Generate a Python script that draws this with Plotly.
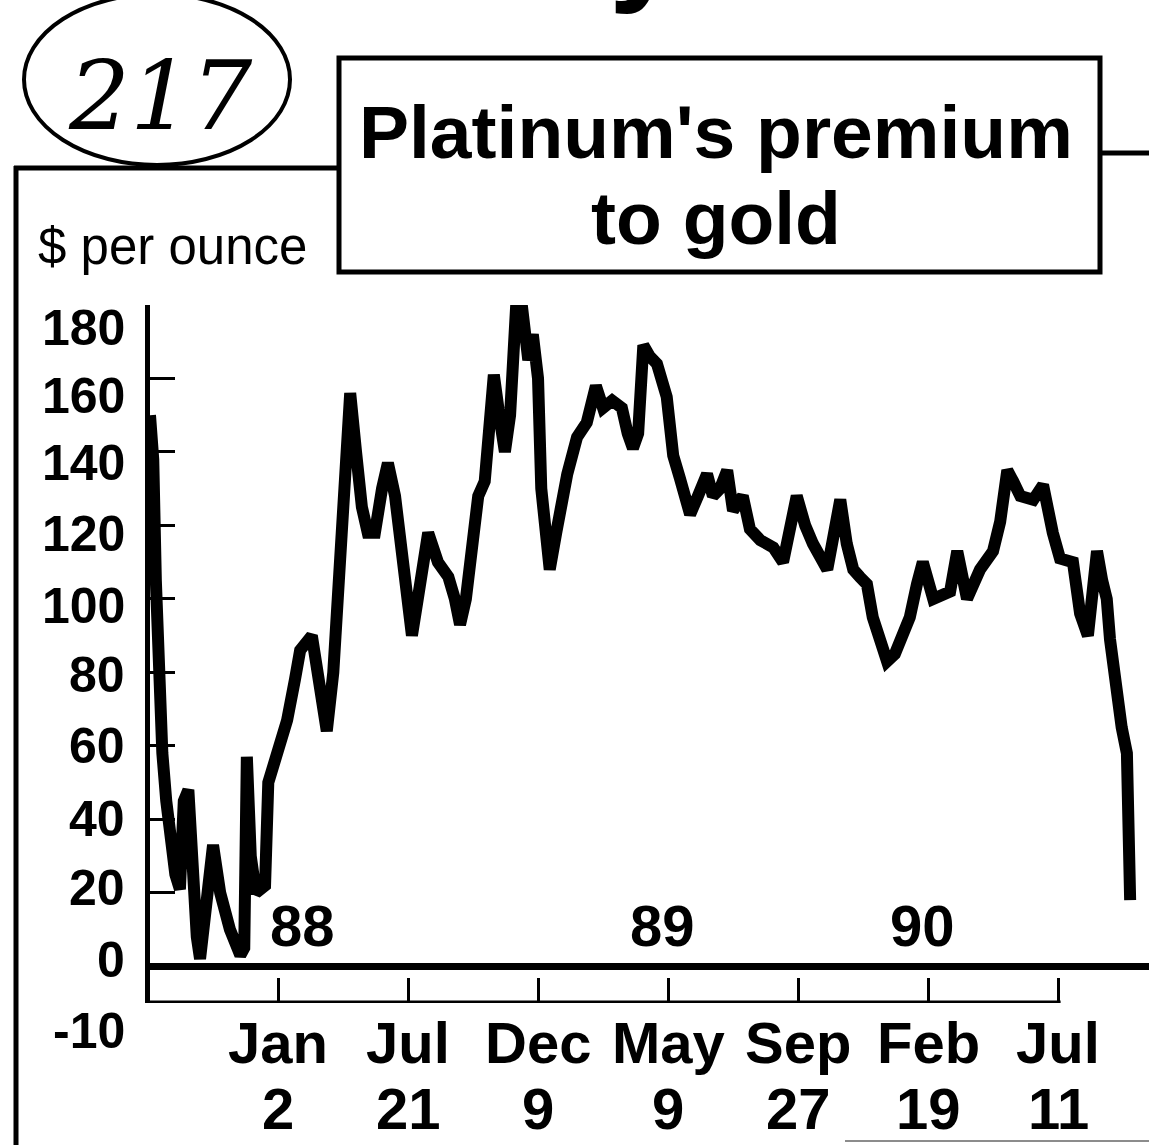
import plotly.graph_objects as go

# Platinum minus gold, $ per ounce, sampled along a week index
weeks = [-0.7, -0.2, 0.2, 0.7, 1.2, 1.8, 2.4, 3.2, 3.9, 4.5, 5.2, 5.8, 6.5, 7.0,
         7.9, 9.0, 10.1, 11.6, 13.2, 13.8, 14.2, 14.8, 15.6, 17.0, 17.5, 19.0,
         20.4, 21.6, 22.4, 24.2, 25.5, 26.5, 27.5, 28.2, 29.0, 30.1, 31.0, 31.9,
         32.8, 33.9, 35.0, 35.9, 37.0, 38.1, 38.8, 39.6, 40.5, 41.2, 42.1, 43.6,
         45.2, 46.2, 47.0, 47.9, 48.8, 49.8, 50.8, 51.6, 52.2, 53.2, 53.9, 54.7,
         55.8, 56.5, 57.5, 58.2, 59.0, 59.5, 60.2, 60.8, 61.8, 62.4, 63.5, 65.0,
         66.5, 67.9, 69.0, 70.4, 71.9, 72.8, 73.6, 74.4, 75.2, 76.2, 77.3, 78.8,
         79.8, 80.8, 82.4, 83.6, 85.0, 85.9, 87.0, 88.1, 89.0, 90.5, 91.6, 93.2,
         95.2, 96.7, 97.8, 98.8, 100.1, 101.3, 103.5, 104.4, 105.5, 106.5, 107.5,
         108.5, 109.6, 110.5, 111.6, 112.7, 113.9, 114.7, 116.2, 117.3, 118.2,
         119.8, 121.2, 122.4, 123.5, 125.0, 127.0, 129.0, 130.1, 131.2, 132.1,
         133.2, 135.2, 136.7, 138.2, 139.3, 141.3, 142.4, 143.6, 144.4, 145.0,
         145.8, 146.5, 147.0, 148.1, 148.8, 149.6, 149.8, 150.1]
premium = [150, 138, 105, 75, 58, 45, 35, 25, 21, 45, 48, 25, 8, 2,
           15, 33, 20, 10, 3, 5, 57, 30, 20, 22, 50, 58,
           67, 78, 86, 90, 75, 64, 80, 98, 130, 156, 140, 125,
           118, 118, 130, 137, 128, 112, 97, 90, 100, 107, 118, 110,
           106, 100, 93, 100, 112, 128, 132, 150, 161, 148, 140, 150,
           185, 180, 165, 172, 160, 130, 118, 108, 118, 125, 134, 144,
           148, 158, 152, 154, 152, 145, 141, 145, 169, 166, 164, 155,
           139, 133, 123, 128, 134, 128, 130, 135, 124, 128, 119, 116,
           114, 110, 118, 128, 120, 115, 108, 115, 127, 115, 108,
           106, 104, 95, 88, 83, 85, 88, 95, 104, 110,
           100, 101, 102, 113, 100, 108, 113, 121, 135, 132,
           128, 127, 131, 118, 111, 110, 96, 90, 100, 113,
           105, 100, 89, 73, 65, 58, 42, 18]

tick_weeks = [19, 39, 59, 79, 99, 119, 139]
tick_months = ["Jan", "Jul", "Dec", "May", "Sep", "Feb", "Jul"]
tick_days = ["2", "21", "9", "9", "27", "19", "11"]

year_labels = ["88", "89", "90"]
year_weeks = [22.7, 78.2, 118.1]

y_ticks = [-10, 0, 20, 40, 60, 80, 100, 120, 140, 160, 180]

W, H = 1149, 1145
PL, PR, PT, PB = 150, 1149, 305, 1003  # plot area in pixels

SANS = "Liberation Sans, Arial, sans-serif"

# hand-set vertical nudges (px) for the value labels beside the axis
label_nudge = {180: -23, 160: -18, 140: -11, 120: -9, 100: -7, 80: -3,
               60: 0, 40: 0, 20: 5, 0: 6, -10: -28}


def fx(p):
    return (p - PL) / (PR - PL)


def fy(p):
    return (PB - p) / (PB - PT)


fig = go.Figure()
fig.add_trace(go.Scatter(
    x=weeks, y=premium, mode="lines",
    line=dict(color="black", width=12),
    cliponaxis=False, hoverinfo="skip", showlegend=False,
))

bold_label = dict(family=SANS, size=58, color="black", weight="bold")

annotations = []
for v in y_ticks:
    annotations.append(dict(x=fx(127), xref="paper", y=v, yref="y", text=str(v),
                            yshift=label_nudge[v], showarrow=False,
                            xanchor="right", yanchor="middle",
                            font=dict(family=SANS, size=50, color="black", weight="bold")))
for wk, m, d in zip(tick_weeks, tick_months, tick_days):
    annotations.append(dict(x=wk, xref="x", y=fy(1042), yref="paper", text=m,
                            showarrow=False, xanchor="center", yanchor="middle",
                            font=bold_label))
    annotations.append(dict(x=wk, xref="x", y=fy(1108), yref="paper", text=d,
                            showarrow=False, xanchor="center", yanchor="middle",
                            font=bold_label))
for lab, wk in zip(year_labels, year_weeks):
    annotations.append(dict(x=wk, xref="x", y=11, yref="y", text=lab,
                            showarrow=False, xanchor="center", yanchor="middle",
                            font=bold_label))

# title, unit label and the circled page number
annotations += [
    dict(x=fx(716), y=fy(132), xref="paper", yref="paper", text="Platinum's premium",
         showarrow=False, xanchor="center", yanchor="middle",
         font=dict(family=SANS, size=75, color="black", weight="bold")),
    dict(x=fx(716), y=fy(218), xref="paper", yref="paper", text="to gold",
         showarrow=False, xanchor="center", yanchor="middle",
         font=dict(family=SANS, size=75, color="black", weight="bold")),
    dict(x=fx(36), y=fy(246), xref="paper", yref="paper", text="$ per ounce",
         showarrow=False, xanchor="left", yanchor="middle",
         font=dict(family=SANS, size=51, color="black")),
    dict(x=fx(160), y=fy(96), xref="paper", yref="paper", text="<i>217</i>",
         showarrow=False, xanchor="center", yanchor="middle",
         font=dict(family="DejaVu Serif", size=96, color="black")),
    dict(x=fx(645), y=fy(-58), xref="paper", yref="paper", text="y",
         showarrow=False, xanchor="center", yanchor="middle",
         font=dict(family="Liberation Sans", size=130, color="black", weight="bold")),
]

shapes = [
    # bottom rule of the axis box, ending at the last date tick
    dict(type="line", xref="x", yref="y", x0=-0.7, x1=139.4, y0=-10, y1=-10,
         line=dict(color="black", width=5)),
    # title box
    dict(type="rect", xref="paper", yref="paper", x0=fx(339), x1=fx(1100),
         y0=fy(272), y1=fy(58), line=dict(color="black", width=5)),
    # frame lines
    dict(type="line", xref="paper", yref="paper", x0=fx(1100), x1=fx(1149),
         y0=fy(153), y1=fy(153), line=dict(color="black", width=5)),
    dict(type="line", xref="paper", yref="paper", x0=fx(14), x1=fx(339),
         y0=fy(168), y1=fy(168), line=dict(color="black", width=5)),
    dict(type="line", xref="paper", yref="paper", x0=fx(16), x1=fx(16),
         y0=fy(166), y1=fy(1145), line=dict(color="black", width=5)),
    dict(type="line", xref="paper", yref="paper", x0=fx(845), x1=fx(1149),
         y0=fy(1141), y1=fy(1141), line=dict(color="#666666", width=1.5)),
    # circle round the page number
    dict(type="circle", xref="paper", yref="paper", x0=fx(24), x1=fx(290),
         y0=fy(165), y1=fy(-6), line=dict(color="black", width=4)),
]

fig.update_layout(
    width=W, height=H,
    margin=dict(l=PL, r=W - PR, t=PT, b=H - PB, pad=0),
    paper_bgcolor="white", plot_bgcolor="white",
    showlegend=False,
    annotations=annotations,
    shapes=shapes,
    xaxis=dict(range=[-0.7, 153], tickvals=tick_weeks, showticklabels=False,
               ticks="inside", ticklen=25, tickwidth=3, tickcolor="black",
               showline=False, showgrid=False, zeroline=False, fixedrange=True),
    yaxis=dict(range=[-10, 180], tickvals=y_ticks, showticklabels=False,
               ticks="inside", ticklen=25, tickwidth=3, tickcolor="black",
               showline=True, linewidth=5, linecolor="black",
               zeroline=True, zerolinewidth=7, zerolinecolor="black",
               showgrid=False, fixedrange=True),
)

fig.write_html("out.html")
